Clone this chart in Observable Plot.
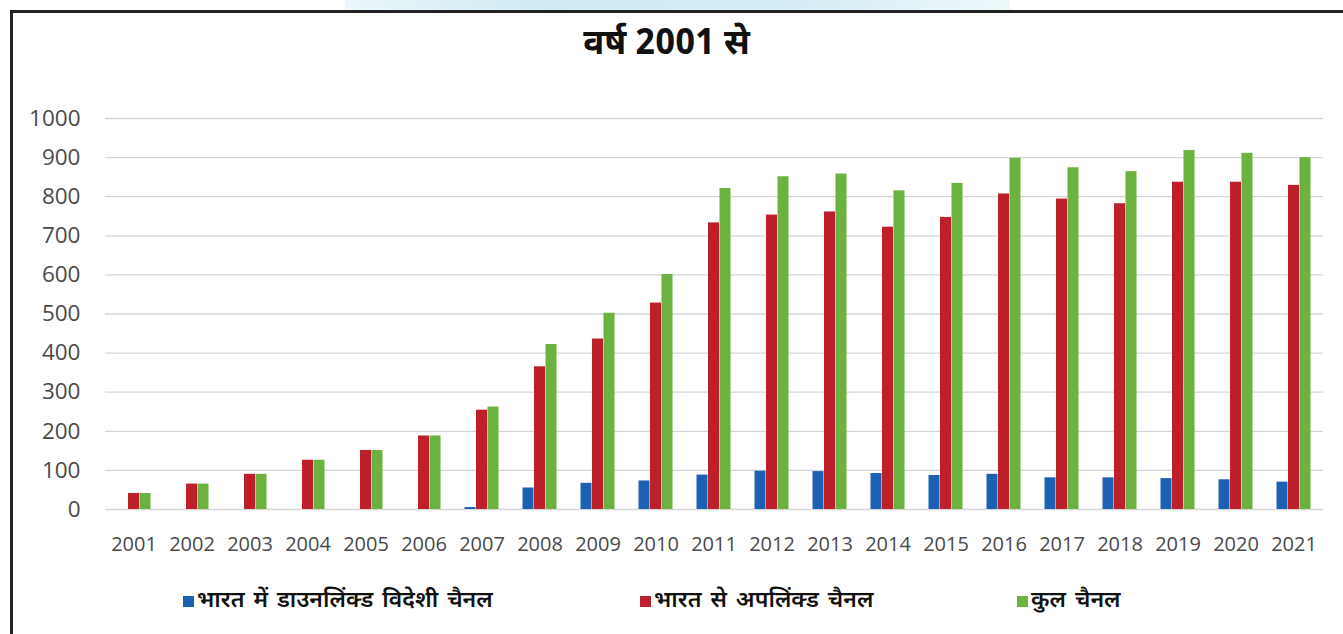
<!DOCTYPE html>
<html>
<head>
<meta charset="utf-8">
<script src="https://cdn.jsdelivr.net/npm/d3@7"></script>
<script src="https://cdn.jsdelivr.net/npm/@observablehq/plot@0.6"></script>
<style>
  html, body { margin: 0; padding: 0; background: #fff; }
  #wrap { position: relative; width: 1343px; height: 634px; overflow: hidden; background: #fff; }
  #topband { position: absolute; left: 345px; top: 0; width: 665px; height: 10px;
    background: linear-gradient(90deg, #eaf6fa 0%, #cfeaf3 30%, #d6edf5 70%, #eef8fb 100%); }
  #frameTop { position: absolute; left: 10px; top: 10px; width: 1333px; height: 3px; background: #222; }
  #frameLeft { position: absolute; left: 10px; top: 10px; width: 3px; height: 624px; background: #222; }
  #title { position: absolute; left: 0; top: 25px; width: 1333px; text-align: center;
    font-family: "Noto Sans Devanagari", "Lohit Devanagari", "Mangal", "Noto Sans", "DejaVu Sans", sans-serif;
    font-weight: bold; font-size: 35px; line-height: 42px; color: #111; }
  #chart { position: absolute; left: 0; top: 90px; }
  .leg { position: absolute; top: 587px; height: 28px; display: flex; align-items: center;
    font-family: "Noto Sans Devanagari", "Lohit Devanagari", "Mangal", "Noto Sans", "DejaVu Sans", sans-serif;
    font-size: 23px; font-weight: 600; color: #111; white-space: nowrap; word-spacing: 3px; }
  .sw { width: 11px; height: 11px; margin-right: 3px; display: inline-block; }
</style>
</head>
<body>
<div id="wrap">
  <div id="topband"></div>
  <div id="frameTop"></div>
  <div id="frameLeft"></div>
  <div id="title"></div>
  <div id="chart"></div>
  <div id="legend"></div>
</div>
<script>
// ---- data ----
const titleText = "वर्ष 2001 से";
const years = ["2001","2002","2003","2004","2005","2006","2007","2008","2009","2010","2011",
               "2012","2013","2014","2015","2016","2017","2018","2019","2020","2021"];
const seriesNames = ["भारत में डाउनलिंक्ड विदेशी चैनल", "भारत से अपलिंक्ड चैनल", "कुल चैनल"];
const downlinked = [0, 0, 0, 0, 0, 0, 5, 55, 67, 73, 88, 98, 97, 92, 87, 90, 81, 81, 79, 76, 70];
const uplinked   = [41, 65, 90, 126, 151, 188, 254, 365, 436, 528, 733, 753, 761, 722, 747, 807, 794, 782, 837, 837, 829];
const total      = [41, 65, 90, 126, 151, 188, 262, 422, 502, 601, 821, 851, 858, 815, 834, 898, 874, 864, 918, 911, 900];
const yTicks = [0, 100, 200, 300, 400, 500, 600, 700, 800, 900, 1000];
const seriesColors = ["#1c60b4", "#bd1f2b", "#6cb241"];

// ---- build rows ----
const valuesBySeries = [downlinked, uplinked, total];
const rows = [];
seriesNames.forEach((s, k) => {
  years.forEach((year, i) => rows.push({year, series: s, value: valuesBySeries[k][i]}));
});

document.getElementById("title").textContent = titleText;

const W = 1343, H = 480;
const offsets = [-11.5, 0, 11.5];
const chart = Plot.plot({
  width: W,
  height: H,
  marginLeft: 105,
  marginRight: 20,
  marginTop: 28,
  marginBottom: 61,
  style: {fontFamily: "'Open Sans', sans-serif", background: "transparent", overflow: "visible"},
  x: {domain: years, paddingInner: 0.802, paddingOuter: 0.401, label: null},
  y: {domain: [0, 1000], label: null},
  color: {domain: seriesNames, range: seriesColors},
  marks: [
    Plot.gridY(yTicks, {stroke: "#d6d6d6", strokeOpacity: 1, strokeWidth: 1.3}),
    ...seriesNames.map((s, k) =>
      Plot.barY(rows.filter(d => d.series === s), {
        x: "year", y: "value", fill: "series", dx: offsets[k]
      })
    ),
    Plot.axisY(yTicks, {tickSize: 0, tickPadding: 25, fontSize: 22.5, fill: "#4a4a4a",
      tickFormat: d => String(d), label: null}),
    Plot.axisX({tickSize: 0, tickPadding: 27, fontSize: 20, fill: "#4a4a4a", label: null})
  ]
});
document.getElementById("chart").appendChild(chart);

// ---- legend ----
const legendX = [183, 640, 1017];
const legend = document.getElementById("legend");
seriesNames.forEach((s, k) => {
  const item = document.createElement("div");
  item.className = "leg";
  item.style.left = legendX[k] + "px";
  const sw = document.createElement("span");
  sw.className = "sw";
  sw.style.background = seriesColors[k];
  item.appendChild(sw);
  item.appendChild(document.createTextNode(s));
  legend.appendChild(item);
});
</script>
</body>
</html>
